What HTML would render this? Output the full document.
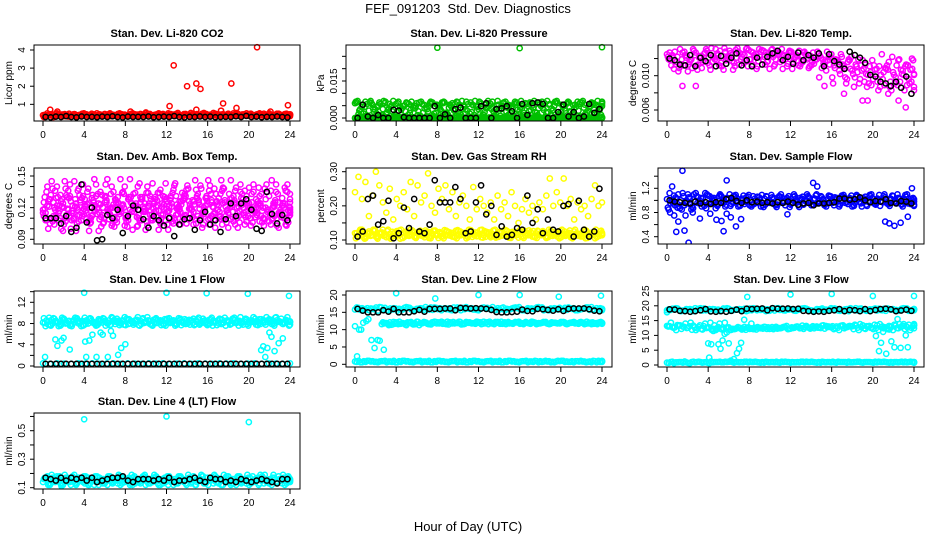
<!DOCTYPE html>
<html><head><meta charset="utf-8"><style>
html,body{margin:0;padding:0;background:#fff;}
svg{display:block;font-family:"Liberation Sans",Arial,sans-serif;}
</style></head><body>
<svg id="chart" width="936" height="540" viewBox="0 0 936 540" xmlns="http://www.w3.org/2000/svg">
<text x="468" y="13" text-anchor="middle" font-size="13" xml:space="preserve">FEF_091203  Std. Dev. Diagnostics</text>
<text x="468" y="531" text-anchor="middle" font-size="13">Hour of Day (UTC)</text>
</svg>
<script>
const xTicks=[0,4,8,12,16,20,24];
// CO2
const co2Main=[0.4,0.35,0.45,0.3,0.5,0.4,0.35,0.42,0.38,0.46,0.33,0.4,0.44,0.36,0.48,0.4,0.34,0.42,0.38,0.45,0.4,0.36,0.5,0.42,0.38,0.44,0.35,0.4,0.47,0.39,0.43,0.36,0.41,0.45,0.38,0.4,0.5,0.42,0.36,0.44,0.39,0.47,0.4,0.35,0.43,0.41,0.38,0.46,0.4,0.52,0.37,0.43,0.4,0.45,0.36,0.42,0.48,0.39,0.41,0.37,0.44,0.4,0.46,0.38,0.42,0.5,0.4,0.36,0.45,0.41,0.48,0.35];
const co2OutT=[0.7,1.4,8.5,10,12.3,12.7,14,14.9,15.3,14.9,17.3,17.5,18.3,18.8,20.8,22.1,23.8];
const co2OutV=[0.7,0.6,0.6,0.55,0.9,3.15,2.0,2.15,1.85,0.7,0.65,1.05,2.15,0.8,4.15,0.6,0.95];
const co2Black=[0.3,0.28,0.32,0.3,0.35,0.3,0.28,0.33,0.3,0.31,0.29,0.32,0.3,0.34,0.3,0.28,0.32,0.3,0.31,0.3,0.33,0.29,0.3,0.32,0.3,0.35,0.3,0.28,0.31,0.3,0.33,0.3,0.32,0.29,0.3,0.31,0.3,0.34,0.3,0.36,0.3,0.32,0.29,0.31,0.3,0.33,0.3,0.28];
// Pressure
const prMain=[0.006,0.0015,0.0045,0.0066,0.003,0.0054,0.0009,0.0063,0.0036,0.0018,0.0057,0.0069,0.0024,0.0045,0.0006,0.006,0.0033,0.0051,0.0012,0.0066,0.0039,0.0027,0.0057,0.0003,0.0048,0.0063,0.0021,0.0042,0.006,0.0009,0.0054,0.0036,0.0066,0.0018,0.0051,0.003,0.0063,0.0012,0.0045,0.0057,0.0024,0.0069,0.0036,0.0006,0.0054,0.0048,0.0066,0.0015,0.0039,0.006,0.0027,0.0051,0.0009,0.0063,0.0042,0.0021,0.0057,0.0033,0.0069,0.0012,0.0048,0.006,0.0024,0.0039,0.0066,0.0006,0.0054,0.003,0.0063,0.0018,0.0045,0.0057];
const prBase=[0,0,0.0003,0,0.0002,0,0,0.0003,0,0.0002,0,0,0.0003,0,0,0.0002,0,0.0003,0,0,0.0002,0,0,0.0003,0,0.0002,0,0,0.0003,0,0.0002,0,0,0.0003,0,0,0.0002,0,0.0003,0,0,0.0002];
const prOutT=[8,16,24];
const prOutV=[0.0285,0.0283,0.0287];
const prBlack=[0,0.0054,0.0006,0,0.0012,0,0,0.0033,0.003,0.0003,0,0,0,0,0,0.0048,0,0.0015,0,0.0036,0.0042,0,0,0,0.0048,0.006,0,0.0036,0.0039,0.0048,0.0027,0,0.0057,0.0012,0.006,0.0063,0.0057,0,0,0.0024,0.0054,0.0006,0.0024,0,0.0006,0.0057,0.0021,0.0036];
// Li-820 temp
const tMain=[0.0125,0.0118,0.0108,0.0122,0.0112,0.0128,0.0105,0.0119,0.0124,0.0113,0.0109,0.0127,0.0121,0.0116,0.0131,0.0112,0.0123,0.0118,0.0129,0.0107,0.0121,0.0126,0.0115,0.0132,0.0119,0.0124,0.0111,0.0128,0.0122,0.0117,0.0130,0.0113,0.0125,0.0131,0.0119,0.0127,0.0108,0.0122,0.0129,0.0116,0.0124,0.0111,0.0127,0.0119,0.0123,0.0114,0.0128,0.0121,0.0112,0.0118,0.0125,0.0109,0.0116,0.0122,0.0098,0.0119,0.0106,0.0113,0.0091,0.0118,0.0102,0.0111,0.0096,0.0108,0.0087,0.0104,0.0112,0.0093,0.0101,0.0089,0.0107,0.0083];
const tOutT=[1.5,2.8,15.3,17.2,19,19.5,21.5,22.5,23.2,23.8];
const tOutV=[0.0088,0.0088,0.0088,0.0079,0.0071,0.0071,0.0079,0.0071,0.0063,0.0120];
const tBlack=[0.012,0.0118,0.0113,0.0112,0.0124,0.0111,0.0121,0.0117,0.0124,0.0111,0.0123,0.0114,0.0121,0.0126,0.0112,0.0118,0.0111,0.0121,0.0113,0.0122,0.0126,0.0129,0.0118,0.0122,0.0114,0.0127,0.0118,0.0124,0.0121,0.0126,0.0111,0.0125,0.0117,0.0113,0.0108,0.0128,0.0124,0.0121,0.0115,0.0101,0.0099,0.0093,0.0091,0.0088,0.0093,0.0086,0.0099,0.0079];
// Amb box temp
const abMain=[0.115,0.135,0.105,0.125,0.14,0.11,0.12,0.13,0.1,0.145,0.118,0.108,0.128,0.138,0.112,0.122,0.098,0.132,0.142,0.115,0.105,0.125,0.119,0.135,0.11,0.147,0.12,0.102,0.13,0.116,0.14,0.108,0.124,0.134,0.113,0.128,0.099,0.121,0.143,0.117,0.107,0.131,0.126,0.111,0.137,0.119,0.104,0.129,0.141,0.114,0.123,0.133,0.109,0.118,0.146,0.127,0.101,0.122,0.136,0.112,0.125,0.116,0.139,0.106,0.12,0.131,0.11,0.142,0.115,0.124,0.103,0.118];
const abMain2=[0.118,0.108,0.128,0.112,0.122,0.132,0.104,0.119,0.126,0.11,0.136,0.115,0.121,0.107,0.129,0.117,0.124,0.113,0.131,0.109,0.12,0.127,0.114,0.123,0.106,0.118,0.133,0.111,0.125,0.119,0.103,0.128,0.116,0.122,0.11,0.13,0.117,0.124,0.108,0.121,0.134,0.113,0.119,0.127,0.105,0.123,0.116,0.131,0.11,0.12,0.126,0.112,0.138,0.118,0.109,0.125,0.115,0.129,0.104,0.121,0.133,0.111,0.124,0.117,0.128,0.107,0.12,0.135,0.113,0.122,0.11,0.116];
const abBlack=[0.11,0.11,0.11,0.105,0.112,0.097,0.101,0.142,0.106,0.12,0.089,0.09,0.113,0.11,0.118,0.096,0.112,0.122,0.118,0.109,0.101,0.112,0.108,0.103,0.11,0.093,0.104,0.109,0.11,0.099,0.108,0.116,0.104,0.108,0.097,0.109,0.124,0.112,0.124,0.128,0.118,0.1,0.098,0.135,0.114,0.105,0.113,0.108];
// RH
const rhLow=[0.12,0.11,0.13,0.105,0.125,0.115,0.11,0.12,0.13,0.108,0.118,0.112,0.126,0.104,0.12,0.114,0.13,0.11,0.122,0.116,0.108,0.124,0.112,0.128,0.106,0.119,0.115,0.123,0.11,0.127,0.113,0.12,0.105,0.125,0.117,0.111,0.129,0.114,0.121,0.108,0.126,0.116,0.112,0.13,0.109,0.122,0.118,0.107,0.124,0.113,0.128,0.11,0.12,0.115,0.126,0.106,0.119,0.123,0.111,0.127,0.114,0.12,0.108,0.125,0.117,0.11,0.13,0.112,0.121,0.105,0.118,0.115];
const rhHigh=[0.24,0.285,0.22,0.27,0.17,0.23,0.3,0.26,0.21,0.18,0.25,0.16,0.22,0.2,0.24,0.19,0.27,0.17,0.26,0.21,0.23,0.295,0.2,0.18,0.25,0.22,0.26,0.19,0.24,0.17,0.21,0.23,0.2,0.16,0.255,0.19,0.22,0.2,0.18,0.21,0.16,0.23,0.19,0.21,0.17,0.24,0.2,0.15,0.19,0.22,0.18,0.2,0.16,0.21,0.19,0.23,0.28,0.2,0.24,0.21,0.28,0.2,0.22,0.16,0.21,0.19,0.2,0.17,0.22,0.26,0.2,0.21];
const rhBlack=[0.11,0.125,0.22,0.23,0.145,0.155,0.215,0.105,0.12,0.195,0.135,0.22,0.125,0.12,0.145,0.275,0.21,0.21,0.21,0.255,0.22,0.12,0.125,0.21,0.26,0.175,0.2,0.115,0.14,0.11,0.115,0.135,0.13,0.23,0.15,0.19,0.12,0.16,0.13,0.125,0.2,0.205,0.11,0.215,0.13,0.11,0.125,0.25];
// Sample flow
const sfMain=[1.02,0.95,1.08,0.88,1.0,0.92,1.1,0.85,0.98,1.05,0.9,1.12,0.95,1.03,0.87,1.07,0.99,0.93,1.1,0.96,1.04,0.91,1.08,0.97,1.01,0.94,1.06,0.9,1.03,0.98,1.09,0.93,1.0,1.05,0.92,1.07,0.96,1.02,0.89,1.06,0.98,1.04,0.93,1.1,0.97,1.01,0.95,1.07,0.92,1.03,0.99,1.05,0.94,1.08,0.96,1.02,0.9,1.06,0.98,1.04,0.93,1.09,0.97,1.0,0.91,1.07,0.95,1.03,0.98,1.1,0.94,1.02];
const sfOutT=[0.3,0.7,0.9,1.1,1.5,1.7,2.1,2.5,3.2,4.2,4.8,5.3,5.5,5.8,6.2,6.7,7.2,11.7,14.2,14.6,21.2,21.6,22.1,22.7,23.4,0.5,1.8,5.8,23.8];
const sfOutV=[0.8,0.75,0.48,0.65,1.49,0.5,0.3,0.8,0.7,0.78,0.68,0.66,0.49,0.78,0.72,0.57,0.69,0.77,1.29,1.23,0.65,0.62,0.58,0.63,0.73,1.23,0.75,1.33,1.2];
const sfBlack=[1.0,0.98,0.97,0.96,0.95,0.98,0.95,0.97,0.94,0.97,0.96,1.02,1.04,0.99,0.96,1.0,0.97,0.98,0.96,0.97,0.95,0.97,0.96,0.98,0.96,0.93,0.95,0.96,0.92,0.95,0.95,0.96,0.97,1.03,1.03,1.01,1.02,1.05,1.0,0.97,0.99,0.98,1.02,0.96,0.95,0.99,0.98,0.95];
// Line 1
const l1Main=[8.2,8.6,7.7,9.0,8.3,7.6,8.9,8.1,7.8,8.7,8.4,7.5,9.1,8.0,8.5,7.9,8.8,8.2,7.6,8.6,9.0,8.3,7.7,8.4,8.9,8.0,7.8,8.7,8.5,8.1,9.2,7.9,8.3,8.6,7.7,8.8,8.2,8.5,7.6,9.0,8.4,7.9,8.7,8.1,8.6,7.8,8.9,8.3,8.0,8.5,7.7,8.8,8.2,8.6,7.9,9.1,8.4,8.0,8.7,7.6,8.3,8.9,8.1,8.5,7.8,8.8,8.2,9.2,8.4,7.9,8.6,8.3];
const l1Low=[0.5,0.4,0.5,0.45,0.4,0.5,0.45,0.5,0.4,0.45,0.5,0.4,0.5,0.45,0.4,0.5,0.45,0.5,0.4,0.45,0.5,0.4,0.5,0.45,0.4,0.5,0.45,0.5,0.4,0.45,0.5,0.4,0.5,0.45,0.4,0.5];
const l1OutT=[0.2,1.2,1.4,1.8,2.0,2.6,4.1,4.2,4.5,4.8,5.2,5.6,5.8,6.3,6.6,6.8,7.3,7.6,8.0,4.0,12.0,15.9,19.9,23.9,21.2,21.4,21.6,21.8,22.0,22.2,22.5,22.9,23.3];
const l1OutV=[1.7,5.0,3.8,4.8,5.3,3.1,4.6,1.7,4.8,5.9,1.7,6.3,5.9,1.7,6.6,5.7,2.1,3.4,4.1,13.8,13.8,13.7,13.6,13.2,3.0,3.7,1.7,3.4,6.3,5.5,2.8,4.3,5.2];
const l1Black=[0.4,0.4,0.4,0.4,0.4,0.4,0.4,0.4,0.4,0.4,0.4,0.4,0.4,0.4,0.4,0.4,0.4,0.4,0.4,0.4,0.4,0.4,0.4,0.4,0.4,0.4,0.4,0.4,0.4,0.4,0.4,0.4,0.4,0.4,0.4,0.4,0.4,0.4,0.4,0.4,0.4,0.4,0.4,0.4,0.4,0.4,0.4,0.4];
// Line 2
const l2Top=[15.8,16.2,15.6,16.4,15.9,16.1,15.5,16.3,15.8,16.0,16.5,15.7,16.2,15.9,16.4,15.6,16.1,15.8,16.3,16.0,15.7,16.4,15.9,16.2,15.6,16.1,16.5,15.8,16.0,16.3,15.7,16.2,15.9,16.4,15.6,16.0];
const l2Mid=[11.6,11.9,11.4,12.1,11.7,11.5,12.0,11.8,11.3,12.2,11.6,11.9,12.1,11.7,12.3,11.8,12.0,11.5,12.2,11.9,11.7,12.1,11.8,12.3,11.6,12.0,11.9,12.2,11.7,12.1,11.8,12.0,12.3,11.6,11.9,12.2,11.7,12.0,11.8,12.1,11.9,12.2,11.7,12.0,11.8,12.1,11.6,12.0];
const l2Low=[0.8,0.6,1.0,0.7,0.9,0.8,0.6,1.0,0.7,0.9,0.8,0.6,1.0,0.7,0.9,0.8,0.6,1.0,0.7,0.9,0.8,0.6,1.0,0.7,0.9,0.8,0.6,1.0,0.7,0.9,0.8,0.6,1.0,0.7,0.9,0.8];
const l2OutT=[0,0.4,0.6,0.8,1.1,1.3,1.6,1.9,2.2,2.4,2.8,0.2,4.0,7.8,12.0,16.0,19.8,23.9];
const l2OutV=[11.0,10.0,10.0,12.0,12.5,13.0,7.0,4.7,7.0,6.8,4.2,2.3,20.5,19.0,20.0,20.0,19.5,19.8];
const l2Black=[16.0,15.5,15.0,15.0,15.0,15.6,15.2,16.0,15.0,15.0,15.0,15.3,15.7,15.2,16.0,16.0,16.0,16.1,16.1,15.6,16.3,16.2,16.1,16.2,16.1,16.0,15.7,15.1,15.0,15.0,15.1,15.2,15.8,15.4,15.3,16.0,15.9,15.7,15.5,15.9,15.4,16.0,16.1,16.1,16.1,15.9,15.5,15.3];
// Line 3
const l3Top=[18.5,19.0,18.2,18.8,19.2,18.4,18.9,18.6,19.1,18.3,18.7,19.0,18.5,18.9,18.2,19.2,18.6,18.8,18.4,19.0,18.7,18.3,19.1,18.5,18.9,18.6,19.2,18.4,18.8,18.7,19.0,18.3,18.9,18.6,19.1,18.5];
const l3Mid=[13.2,12.8,13.5,13.0,12.6,13.3,12.9,13.1,12.7,13.4,14.0,14.3,11.8,12.2,12.5,11.9,12.4,12.0,12.6,12.2,12.8,12.3,12.7,12.1,12.5,12.9,12.2,12.6,12.4,12.8,12.3,12.9,12.5,13.2,12.7,13.0,13.3,12.8,13.1,12.6,13.4,13.0,12.1,11.8,12.4,13.2,13.6,13.8];
const l3Low=[0.8,0.6,1.0,0.7,0.9,0.8,0.6,1.0,0.9,1.2,1.0,1.1,1.0,0.9,1.1,1.0,0.8,1.0,0.9,1.1,1.0,0.9,1.1,1.0,0.8,1.0,0.9,1.1,1.0,0.9,1.1,1.0,0.8,1.0,0.9,1.0];
const l3OutT=[0,4.0,4.1,4.3,4.5,4.8,5.0,5.2,5.4,5.6,5.8,6.0,6.2,6.5,6.8,7.0,7.2,7.5,7.8,8.2,12,16,20,24,20.3,20.6,20.8,21.0,21.3,21.6,21.8,22.1,22.4,22.7,23.0,23.2,23.4];
const l3OutV=[17.8,7.3,2.5,7.0,11.5,12.0,7.0,5.5,8.3,10.5,11.0,7.3,1.5,2.0,4.0,5.5,7.5,15.3,23.0,14.0,23.8,24.0,23.3,23.3,9.8,4.7,7.5,11.2,3.8,12.0,8.0,6.0,15.5,5.8,13.8,10.0,6.0];
const l3Black=[18.8,18.7,18.3,18.2,18.0,18.2,18.5,18.9,18.1,18.0,18.2,18.0,18.3,18.7,18.2,19.0,18.9,19.0,19.1,18.5,19.2,19.0,19.0,19.1,18.9,19.0,18.3,18.2,18.0,18.1,18.0,18.3,18.5,18.9,18.2,18.6,18.5,18.2,18.9,18.2,18.6,18.9,19.0,18.8,18.2,18.4,18.7,18.3];
// Line 4
const l4Main=[0.14,0.17,0.12,0.16,0.18,0.13,0.15,0.17,0.12,0.19,0.14,0.16,0.13,0.17,0.15,0.18,0.12,0.16,0.14,0.17,0.13,0.15,0.18,0.14,0.16,0.12,0.17,0.15,0.13,0.18,0.14,0.16,0.19,0.13,0.15,0.17,0.12,0.16,0.14,0.18,0.15,0.13,0.17,0.16,0.12,0.15,0.18,0.14,0.16,0.13,0.17,0.15,0.19,0.14,0.12,0.16,0.18,0.13,0.15,0.17,0.14,0.16,0.12,0.18,0.15,0.13,0.17,0.14,0.16,0.19,0.13,0.15];
const l4OutT=[4.0,12.0,20.0,1.8,4.4];
const l4OutV=[0.58,0.6,0.56,0.11,0.12];
const l4Black=[0.17,0.16,0.15,0.17,0.15,0.17,0.16,0.17,0.15,0.17,0.14,0.15,0.16,0.17,0.17,0.18,0.15,0.14,0.16,0.16,0.16,0.15,0.16,0.15,0.17,0.14,0.15,0.15,0.16,0.17,0.15,0.14,0.17,0.16,0.16,0.14,0.15,0.14,0.16,0.15,0.14,0.15,0.16,0.15,0.14,0.13,0.16,0.16];

const panels=[
 {name:'co2',title:'Stan. Dev. Li-820 CO2',ylab:'Licor ppm',col:0,row:0,ticks:[1,2,3,4],labels:['1','2','3','4'],color:'#ff0000',
  series:[[co2Main,null,0,1],[co2OutV,co2OutT]],black:co2Black,v0:0.08,p0:121,v1:4,p1:50},
 {name:'pressure',title:'Stan. Dev. Li-820 Pressure',ylab:'kPa',col:1,row:0,ticks:[0,0.005,0.010,0.015,0.020,0.025],labels:['0.000','','','0.015','',''],color:'#00c000',
  series:[[prMain,null,0,1],[prBase,null,0,1],[prOutV,prOutT]],black:prBlack,v0:0,p0:118,v1:0.015,p1:81},
 {name:'li820-temp',title:'Stan. Dev. Li-820 Temp.',ylab:'degrees C',col:2,row:0,ticks:[0.006,0.008,0.010,0.012],labels:['0.006','','0.010',''],color:'#ff00ff',
  series:[[tMain,null,0,1],[tOutV,tOutT]],black:tBlack,v0:0.006,p0:110,v1:0.010,p1:75.7},
 {name:'amb-box-temp',title:'Stan. Dev. Amb. Box Temp.',ylab:'degrees C',col:0,row:1,ticks:[0.09,0.10,0.11,0.12,0.13,0.14,0.15],labels:['0.09','','','0.12','','','0.15'],color:'#ff00ff',
  series:[[abMain,null,0,1],[abMain2,null,0,1]],black:abBlack,v0:0.09,p0:239.3,v1:0.15,p1:176},
 {name:'gas-stream-rh',title:'Stan. Dev. Gas Stream RH',ylab:'percent',col:1,row:1,ticks:[0.10,0.15,0.20,0.25,0.30],labels:['0.10','','0.20','','0.30'],color:'#ffff00',
  series:[[rhLow,null,0,1],[rhHigh,null,0,0]],black:rhBlack,v0:0.10,p0:240,v1:0.30,p1:171.7},
 {name:'sample-flow',title:'Stan. Dev. Sample Flow',ylab:'ml/min',col:2,row:1,ticks:[0.4,0.6,0.8,1.0,1.2,1.4],labels:['0.4','','0.8','','1.2',''],color:'#0000ff',
  series:[[sfMain,null,0,1],[sfOutV,sfOutT]],black:sfBlack,v0:0.4,p0:236.7,v1:1.2,p1:188.3},
 {name:'line1-flow',title:'Stan. Dev. Line 1 Flow',ylab:'ml/min',col:0,row:2,ticks:[0,2,4,6,8,10,12,14],labels:['0','','4','','8','','12',''],color:'#00ffff',
  series:[[l1Main,null,0,1],[l1Low,null,0,0],[l1OutV,l1OutT]],black:l1Black,v0:0,p0:366,v1:12,p1:302.3},
 {name:'line2-flow',title:'Stan. Dev. Line 2 Flow',ylab:'ml/min',col:1,row:2,ticks:[0,5,10,15,20],labels:['0','5','10','15','20'],color:'#00ffff',
  series:[[l2Top,null,0,1],[l2Mid,null,2.6,1],[l2Low,null,0,1],[l2OutV,l2OutT]],black:l2Black,v0:0,p0:364.3,v1:20,p1:295},
 {name:'line3-flow',title:'Stan. Dev. Line 3 Flow',ylab:'ml/min',col:2,row:2,ticks:[0,5,10,15,20,25],labels:['0','5','10','15','20','25'],color:'#00ffff',
  series:[[l3Top,null,0,1],[l3Mid,null,0,1],[l3Low,null,0,1],[l3OutV,l3OutT]],black:l3Black,v0:0,p0:365,v1:25,p1:291},
 {name:'line4-flow',title:'Stan. Dev. Line 4 (LT) Flow',ylab:'ml/min',col:0,row:3,ticks:[0.1,0.2,0.3,0.4,0.5,0.6],labels:['0.1','','0.3','','0.5',''],color:'#00ffff',
  series:[[l4Main,null,0,1],[l4OutV,l4OutT]],black:l4Black,v0:0.1,p0:487.7,v1:0.5,p1:430.7}
];
const NS='http://www.w3.org/2000/svg';
const svg=document.getElementById('chart');
function mk(tag,attrs,parent){const e=document.createElementNS(NS,tag);for(const k in attrs)e.setAttribute(k,attrs[k]);(parent||svg).appendChild(e);return e;}
const rowTops=[45,168,291,413];
panels.forEach(p=>{
  const L=34+312*p.col, R=300+312*p.col, T=rowTops[p.row], B=T+76;
  const xS=t=>43+312*p.col+t*(247/24);
  const yS=v=>p.p0+(v-p.v0)*(p.p1-p.p0)/(p.v1-p.v0);
  const g=mk('g',{});
  
  
  const cp=mk('clipPath',{id:'c-'+p.name},g);
  mk('rect',{x:L,y:T-3,width:R-L,height:B-T+3},cp);
  const pts=mk('g',{'clip-path':'url(#c-'+p.name+')',fill:'none','stroke-width':1.5},g);
  
  
  p.series.forEach(s=>{
    const vals=s[0], times=s[1], start=s[2]||0, dense=s[3];
    const n=vals.length;
    const passes=dense?[0,3,7,11]:[0];
    passes.forEach((rot,pi)=>{
      vals.forEach((_,i)=>{
        const j=Math.min(n-1,Math.max(0,(i+rot<n)?i+rot:i-rot));
        const v=vals[j];
        const step=(24-start)/(n-1);
        let t=times?times[i]:start+i*step+pi*step/passes.length;
        if(t>24)t=24;
        const c=mk('circle',{cx:xS(t),cy:yS(v),r:2.6,stroke:p.color},pts);
        
        
      });
    });
  });
  p.black.forEach((v,i)=>{
    const t=0.5+i*0.5-0.25;
    const c=mk('circle',{cx:xS(t),cy:yS(v),r:2.6,stroke:'#000'},pts);
    
    
  });
  const box=mk('rect',{x:L,y:T,width:R-L,height:B-T,fill:'none',stroke:'#000','stroke-width':1},g);
  
  
  const tt=mk('text',{x:(L+R)/2,y:T-8,'text-anchor':'middle','font-size':11,'font-weight':'bold'},g);
  tt.textContent=p.title;
  
  
  mk('line',{x1:xS(0),x2:xS(24),y1:B,y2:B,stroke:'#000'},g);
  xTicks.forEach(t=>{
    mk('line',{x1:xS(t),x2:xS(t),y1:B,y2:B+5,stroke:'#000'},g);
    const tx=mk('text',{x:xS(t),y:B+17,'text-anchor':'middle','font-size':10},g);
    tx.textContent=t;
    
    
  });
  const ys=p.ticks.map(yS);
  mk('line',{x1:L,x2:L,y1:Math.min(...ys),y2:Math.max(...ys),stroke:'#000'},g);
  p.ticks.forEach((v,i)=>{
    const y=yS(v);
    mk('line',{x1:L-4,x2:L,y1:y,y2:y,stroke:'#000'},g);
    if(p.labels[i]){
      const ty=mk('text',{x:L-9,y:y,'text-anchor':'middle','font-size':10,transform:'rotate(-90 '+(L-9)+' '+y+')'},g);
      ty.textContent=p.labels[i];
      
      
    }
  });
  const yl=mk('text',{x:L-22,y:(T+B)/2,'text-anchor':'middle','font-size':10,transform:'rotate(-90 '+(L-22)+' '+((T+B)/2)+')'},g);
  yl.textContent=p.ylab;
  
  
});
</script>
</body></html>
